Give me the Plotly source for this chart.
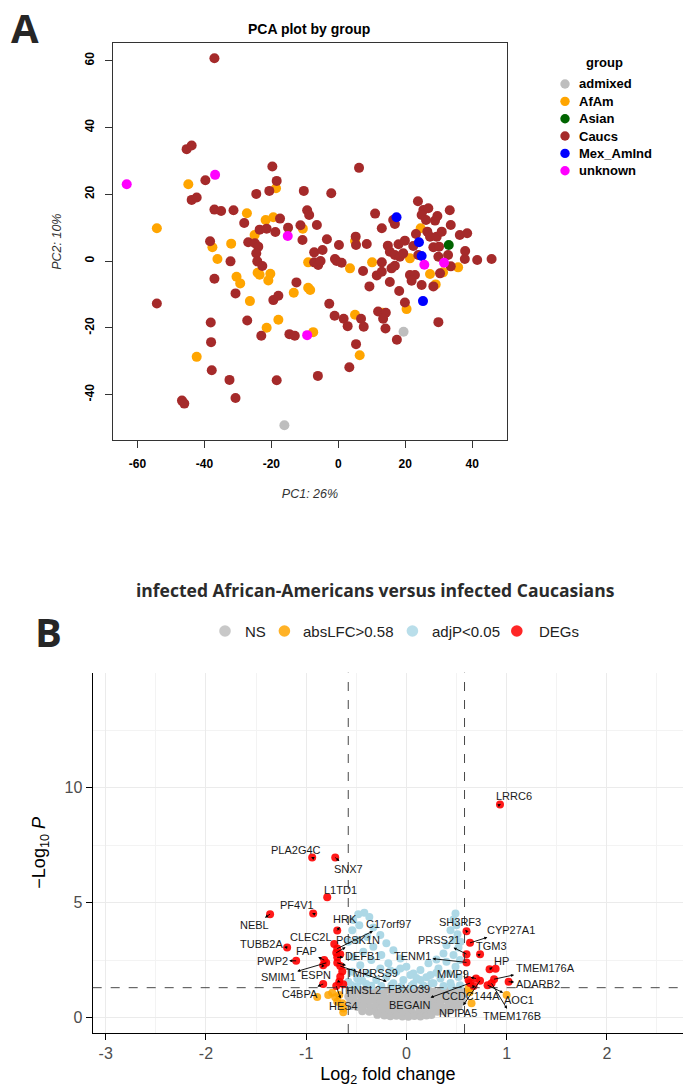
import math
import plotly.graph_objects as go

W, H = 683, 1087

# ---------------- Panel A: PCA scores (PC1, PC2) by group ----------------
admixed_pc1 = [-16.1, 19.5]
admixed_pc2 = [-49.2, -21.2]

afam_pc1 = [-44.8, -54.2, -18.6, -27.3, -21.7, -19.4, -25.0, -10.6, -37.6, -32.0,
            -36.1, -30.4, -29.3, -24.1, -23.5, -20.3, -20.9, -26.4, -13.3, -9.0,
            -8.4, -9.0, -17.9, -21.4, -42.3, -7.5, 5.0, 13.2, 6.4, 20.4,
            3.5, 10.1, 27.4, 29.1, 31.3, 35.8, 5.0, 21.4, 24.6]
afam_pc2 = [23.0, 9.8, 21.8, 14.3, 12.3, 13.1, 7.8, 9.7, 4.1, 5.2,
            0.6, -4.7, -6.7, -3.5, -4.1, -3.8, -5.8, -12.0, -9.5, -8.0,
            -8.7, -0.4, -17.6, -20.0, -28.7, -21.3, -16.1, -15.5, -28.2, -14.4,
            -2.2, -0.4, -3.9, -7.0, -3.4, -1.9, 6.0, 0.8, 9.8]

asian_pc1 = [33.0]
asian_pc2 = [4.8]

caucs_pc1 = [-37.0, -45.3, -43.8, -39.7, -43.8, -42.3, -37.0, -35.0, -31.3, -19.7,
             -18.4, -20.6, -24.5, -10.3, -2.1, -28.1, -17.4, -23.5, -21.4, -18.8,
             -15.0, -11.3, -9.3, -8.7, -6.4, -10.7, -3.4, 0.2, -38.3, -26.9,
             -24.9, -23.9, -24.5, -7.2, -4.7, -32.2, -24.2, -22.7, -37.0, -7.2,
             -6.0, -5.3, -1.0, -0.5, -30.7, -19.4, -17.9, -12.5, -54.2, -38.1,
             -27.2, -38.0, -23.0, -14.6, -13.0, -2.7, -1.1, -37.8, -32.5, -18.4,
             -30.7, -46.7, -46.0, -6.1, 1.6, 2.8, 6.8, 7.6, 11.9, 14.2,
             13.4, 14.1, 17.5, 5.3, 3.3, 29.9, 19.9, 18.2, 15.4, 9.3,
             7.4, 13.0, 11.5, 13.0, 15.9, 16.9, 21.4, 22.9, 21.9, 24.9,
             28.4, 30.4, 33.6, 37.8, 41.5, 45.8, 37.9, 8.5, 14.8, 1.0,
             6.2, 5.2, 5.3, 11.0, 13.0, 16.4, 16.9, 15.4, 18.0, 19.9,
             16.9, 18.4, 19.4, 22.4, 23.9, 23.8, 25.4, 26.9, 24.9, 26.2,
             29.6, 28.9, 33.3, 33.6, 23.2, 26.6, 27.4, 29.4, 30.9, 36.3,
             38.5, 28.4, 30.1, 29.9, 32.8]
caucs_pc2 = [60.7, 33.5, 34.6, 24.2, 18.3, 19.0, 15.4, 15.0, 15.2, 28.3,
             24.0, 21.0, 20.1, 21.0, 20.3, 11.4, 12.7, 9.4, 9.7, 8.7,
             10.0, 10.7, 15.2, 13.8, 10.8, 6.3, 6.5, 4.8, 5.9, 5.6,
             5.3, 4.3, 2.3, 2.6, 3.3, -0.1, -0.1, -1.5, -5.3, -0.4,
             -1.2, 0.0, 0.6, 0.0, -9.7, -11.7, -10.4, -6.4, -12.7, -18.4,
             -17.8, -24.3, -22.4, -21.9, -22.4, -12.8, -16.4, -32.7, -35.6, -35.7,
             -41.0, -41.8, -42.7, -34.4, -17.3, -19.5, -17.3, -19.7, -15.1, -15.5,
             -17.3, -20.2, -23.6, -24.9, -31.8, -18.3, -12.4, -9.0, -6.3, -7.6,
             -3.0, -0.4, -4.3, -3.2, -2.2, -1.4, -4.2, -4.2, -5.9, -7.2,
             -7.6, -3.7, -1.6, 0.6, 0.3, 0.6, 3.0, 5.1, 4.6, -0.5,
             27.9, 7.3, 4.8, 14.2, 9.8, 12.3, 11.1, 2.8, 5.0, 6.1,
             1.8, 1.3, 2.3, 4.5, 1.8, 17.9, 15.3, 15.8, 13.8, 12.3,
             13.5, 12.1, 15.2, 10.8, 8.1, 8.8, 7.3, 7.3, 8.8, 7.8,
             8.3, 4.1, 4.3, 1.3, 1.8]

mex_pc1 = [17.4, 24.1, 24.9, 25.3]
mex_pc2 = [13.1, 5.6, 1.5, -12.0]

unknown_pc1 = [-63.2, -36.8, -15.1, -9.3, 25.7, 31.6]
unknown_pc2 = [23.0, 25.8, 7.5, -22.2, -1.1, -0.5]

group_names = ["admixed", "AfAm", "Asian", "Caucs", "Mex_AmInd", "unknown"]
group_colors = {"admixed": "#BEBEBE", "AfAm": "#FFA500", "Asian": "#006400",
                "Caucs": "#A52A2A", "Mex_AmInd": "#0000FF", "unknown": "#FF00FF"}
group_scores = {"admixed": (admixed_pc1, admixed_pc2), "AfAm": (afam_pc1, afam_pc2),
                "Asian": (asian_pc1, asian_pc2), "Caucs": (caucs_pc1, caucs_pc2),
                "Mex_AmInd": (mex_pc1, mex_pc2), "unknown": (unknown_pc1, unknown_pc2)}
draw_order = ["admixed", "AfAm", "Caucs", "Asian", "Mex_AmInd", "unknown"]

pca_xticks = [-60, -40, -20, 0, 20, 40]
pca_yticks = [-40, -20, 0, 20, 40, 60]

# ---------------- Panel B: volcano plot ----------------
lfc_cutoff = 0.58
p_cutoff = 0.05

# not significant (grey)
ns_lfc = [-0.57, -0.51, -0.46, -0.40, -0.33, -0.28, -0.21, -0.16, -0.09, -0.03,
          0.03, 0.10, 0.15, 0.22, 0.27, 0.34, 0.39, 0.45, 0.51, 0.56,
          -0.58, -0.52, -0.45, -0.39, -0.34, -0.27, -0.22, -0.15, -0.10, -0.04,
          0.02, 0.08, 0.14, 0.21, 0.26, 0.33, 0.38, 0.44, 0.50, 0.55,
          -0.56, -0.50, -0.44, -0.38, -0.31, -0.26, -0.19, -0.14, -0.07, -0.02,
          0.05, 0.10, 0.17, 0.22, 0.29, 0.34, 0.41, 0.46, 0.52, 0.56,
          -0.55, -0.49, -0.43, -0.36, -0.31, -0.24, -0.19, -0.12, -0.07, 0.00,
          0.05, 0.12, 0.17, 0.24, 0.29, 0.36, 0.41, 0.47, 0.52,
          -0.44, -0.37, -0.31, -0.25, -0.18, -0.12, -0.06, 0.01, 0.06, 0.13,
          0.19, 0.25, 0.31, 0.37, 0.43,
          -0.29, -0.22, -0.16, -0.10, -0.04, 0.02, 0.08, 0.14, 0.20, 0.25]
ns_logp = [1.17, 1.12, 1.19, 1.14, 1.18, 1.11, 1.16, 1.20, 1.13, 1.17,
           1.12, 1.18, 1.14, 1.19, 1.12, 1.16, 1.20, 1.13, 1.18, 1.15,
           0.92, 0.95, 0.90, 0.96, 0.91, 0.94, 0.89, 0.95, 0.92, 0.97,
           0.90, 0.94, 0.91, 0.96, 0.93, 0.89, 0.95, 0.92, 0.96, 0.90,
           0.71, 0.67, 0.73, 0.69, 0.72, 0.66, 0.70, 0.74, 0.68, 0.71,
           0.67, 0.73, 0.69, 0.72, 0.66, 0.70, 0.74, 0.68, 0.71, 0.69,
           0.50, 0.46, 0.49, 0.44, 0.48, 0.45, 0.50, 0.46, 0.43, 0.48,
           0.45, 0.49, 0.44, 0.47, 0.50, 0.45, 0.48, 0.44, 0.47,
           0.28, 0.25, 0.27, 0.23, 0.26, 0.22, 0.25, 0.24, 0.21, 0.26,
           0.23, 0.27, 0.25, 0.28, 0.31,
           0.12, 0.09, 0.06, 0.08, 0.05, 0.04, 0.07, 0.05, 0.09, 0.11]

# |log2FC| > 0.58 only (orange)
lfc_only_lfc = [-0.89, -0.78, -0.74, -0.71, -0.67, -0.69, -0.64, -0.63, -0.63,
                0.62, 0.65, 1.00, 0.63]
lfc_only_logp = [0.90, 0.98, 1.08, 0.88, 0.98, 0.69, 0.62, 0.40, 0.23,
                 1.27, 0.62, 0.98, 1.10]

# adjusted p < 0.05 only (light blue)
padj_lfc = [-0.48, -0.42, -0.37, -0.53, -0.47, -0.33, -0.54, -0.26, -0.39, -0.49,
            -0.20, -0.58, -0.33, -0.13, -0.43, -0.25, -0.53, -0.06, -0.35, -0.18,
            -0.46, 0.00, -0.26, -0.10, -0.54, -0.38, 0.07, -0.20, -0.49, -0.03,
            -0.30, 0.14, -0.58, -0.13, -0.40, 0.07, 0.27, -0.25, -0.49,
            0.49, 0.47, 0.50, 0.44, 0.51, 0.47, 0.54, 0.40, 0.52, 0.37,
            0.47, 0.30, 0.535, 0.40, 0.22, 0.49, 0.32, 0.14, 0.42, 0.24,
            0.04, 0.52, 0.34, 0.44, 0.25, 0.535, 0.37, -0.06,
            -0.55, -0.35, -0.15, -0.05, 0.05, 0.17, 0.45, 0.20, -0.44, -0.16,
            0.30, 0.10]
padj_logp = [4.50, 4.56, 4.38, 4.24, 4.02, 3.92, 3.80, 3.59, 3.51, 3.37,
             3.23, 3.30, 3.08, 2.93, 2.86, 2.72, 2.64, 2.57, 2.50, 2.36,
             2.28, 2.21, 2.14, 1.99, 1.99, 1.92, 1.92, 1.77, 1.70, 1.63,
             1.63, 1.63, 1.56, 1.49, 1.46, 1.46, 1.49, 1.37, 1.37,
             4.53, 4.27, 4.02, 3.80, 3.63, 3.37, 3.30, 3.15, 3.05, 2.79,
             2.72, 2.53, 2.50, 2.43, 2.36, 2.21, 2.14, 2.07, 1.92, 1.85,
             1.85, 1.77, 1.70, 1.51, 1.49, 1.41, 1.37, 2.14,
             1.42, 1.38, 1.40, 1.36, 1.38, 1.40, 1.36, 1.75, 1.60, 2.05,
             1.95, 1.72]

# differentially expressed genes (red)
deg_genes = ["LRRC6", "PLA2G4C", "SNX7", "L1TD1", "PF4V1", "NEBL", "HRK", "C17orf97",
             "CLEC2L", "PCSK1N", "TUBB2A", "FAP", "DEFB1", "PWP2", "SMIM1", "ESPN",
             "TMPRSS9", "FBXO39", "THNSL2", "C4BPA", "HES4",
             "SH3RF3", "CYP27A1", "PRSS21", "TGM3", "TENM1", "HP", "TMEM176A",
             "ADARB2", "MMP9", "CCDC144A", "AOC1", "TMEM176B", "NPIPA5", "BEGAIN",
             "", "", "", "", "", ""]
deg_lfc = [0.934, -0.94, -0.71, -0.79, -0.93, -1.36, -0.69, -0.69,
           -0.72, -0.70, -1.19, -0.82, -0.69, -1.10, -0.80, -0.83,
           -0.69, -0.66, -0.67, -0.83, -0.70,
           0.60, 0.635, 0.60, 0.735, 0.60, 0.83, 0.875,
           1.02, 0.695, 0.67, 0.81, 0.85, 0.735, 0.635,
           -0.66, -0.64, -0.66, -0.63, 0.62, 0.89]
deg_logp = [9.27, 6.96, 6.96, 5.23, 4.53, 4.50, 3.79, 3.00,
            3.20, 2.82, 3.05, 2.50, 2.62, 2.47, 2.38, 2.28,
            2.38, 2.24, 1.56, 1.46, 1.37,
            3.76, 3.25, 2.76, 2.76, 2.40, 2.10, 1.67,
            1.56, 1.70, 1.37, 1.41, 1.49, 1.60, 1.50,
            2.75, 2.00, 1.78, 1.45, 1.63, 2.12]

# label placement (pixel offset of each label from its point)
label_offset = {
    "LRRC6": (14, -8), "PLA2G4C": (-16, -8), "SNX7": (13, 11), "L1TD1": (13, -7),
    "PF4V1": (-16, -8), "NEBL": (-16, 11), "HRK": (8, -11), "C17orf97": (51, -25),
    "CLEC2L": (-23, -7), "PCSK1N": (22, -13), "TUBB2A": (-26, -3), "FAP": (-18, -9),
    "DEFB1": (25, -1), "PWP2": (-24, 0), "SMIM1": (-48, 14), "ESPN": (-7, 10),
    "TMPRSS9": (35, 10), "FBXO39": (69, 23), "THNSL2": (21, 8), "C4BPA": (-23, 10),
    "HES4": (7, 20), "SH3RF3": (-7, -9), "CYP27A1": (41, -13), "PRSS21": (-28, -14),
    "TGM3": (11, -8), "TENM1": (-54, -6), "HP": (12, -8), "TMEM176A": (51, -11),
    "ADARB2": (29, 2), "MMP9": (-23, -5), "CCDC144A": (-3, 10), "AOC1": (31, 15),
    "TMEM176B": (20, 33), "NPIPA5": (-22, 32), "BEGAIN": (-60, 22),
}

volcano_categories = ["NS", "absLFC>0.58", "adjP<0.05", "DEGs"]
volcano_colors = {"NS": "#BEBEBE", "absLFC>0.58": "#FFA500",
                  "adjP<0.05": "#ADD8E6", "DEGs": "#FF0000"}
volcano_xticks = [-3, -2, -1, 0, 1, 2]
volcano_yticks = [0, 5, 10]


def px(x):
    return x / W


def py(y):
    return 1 - y / H


def tick_text(vals):
    return [str(v) for v in vals]


fig = go.Figure()

# PCA points
for g in draw_order:
    xs, ys = group_scores[g]
    fig.add_trace(go.Scatter(
        x=xs, y=ys, mode="markers", name=g, xaxis="x", yaxis="y",
        marker=dict(size=10, color=group_colors[g], line=dict(width=0)),
        showlegend=False, hoverinfo="skip"))

# volcano points, grey first then the highlighted categories on top
vol_series = [("NS", ns_lfc, ns_logp, 1.0),
              ("adjP<0.05", padj_lfc, padj_logp, 1.0),
              ("absLFC>0.58", lfc_only_lfc, lfc_only_logp, 0.85),
              ("DEGs", deg_lfc, deg_logp, 0.9)]
for name, xs, ys, op in vol_series:
    fig.add_trace(go.Scatter(
        x=xs, y=ys, mode="markers", name=name, xaxis="x2", yaxis="y2",
        marker=dict(size=8, color=volcano_colors[name], opacity=op, line=dict(width=0)),
        showlegend=False, hoverinfo="skip"))

annotations = []
shapes = []

# ---- Panel A decorations ----
annotations.append(dict(text="<b>A</b>", x=px(25), y=py(27), xref="paper", yref="paper",
                        showarrow=False, xanchor="center", yanchor="middle",
                        font=dict(family="Open Sans", size=40, color="#262626")))
annotations.append(dict(text="<b>PCA plot by group</b>", x=px(309), y=py(29),
                        xref="paper", yref="paper", showarrow=False,
                        xanchor="center", yanchor="middle",
                        font=dict(family="Arial", size=14, color="black")))

# group legend
leg_marker_x, leg_text_x, leg_top, leg_step = 565, 577, 84, 17.35
annotations.append(dict(text="<b>group</b>", x=px(604), y=py(62), xref="paper", yref="paper",
                        showarrow=False, xanchor="center", yanchor="middle",
                        font=dict(family="Arial", size=13, color="black")))
for i, g in enumerate(group_names):
    yc = leg_top + i * leg_step
    shapes.append(dict(type="circle", xref="paper", yref="paper",
                       xsizemode="pixel", ysizemode="pixel",
                       xanchor=px(leg_marker_x), yanchor=py(yc),
                       x0=-4.7, x1=4.7, y0=-4.7, y1=4.7,
                       fillcolor=group_colors[g], line=dict(width=0)))
    annotations.append(dict(text="<b>%s</b>" % g, x=px(leg_text_x), y=py(yc), xref="paper",
                            yref="paper", showarrow=False, xanchor="left", yanchor="middle",
                            font=dict(family="Arial", size=13, color="black")))

# ---- Panel B decorations ----
annotations.append(dict(text="<b>B</b>", x=px(48), y=py(631), xref="paper", yref="paper",
                        showarrow=False, xanchor="center", yanchor="middle",
                        font=dict(family="Open Sans", size=40, color="#262626")))
annotations.append(dict(text="<b>infected African-Americans versus infected Caucasians</b>",
                        x=px(375.5), y=py(590), xref="paper", yref="paper", showarrow=False,
                        xanchor="center", yanchor="middle",
                        font=dict(family="Open Sans", size=17.5, color="#2B2B2B")))

vleg_marker_x = [225, 284.4, 412.4, 516.8]
vleg_text_x = [243.3, 301.4, 430.3, 536.5]
vleg_y = 631
for name, mx, tx in zip(volcano_categories, vleg_marker_x, vleg_text_x):
    shapes.append(dict(type="circle", xref="paper", yref="paper",
                       xsizemode="pixel", ysizemode="pixel",
                       xanchor=px(mx), yanchor=py(vleg_y),
                       x0=-5.8, x1=5.8, y0=-5.8, y1=5.8,
                       fillcolor=volcano_colors[name], opacity=0.85, line=dict(width=0)))
    annotations.append(dict(text=name, x=px(tx), y=py(vleg_y), xref="paper", yref="paper",
                            showarrow=False, xanchor="left", yanchor="middle",
                            font=dict(family="Arial", size=15, color="#222222")))

# cutoff lines
neglog_p_cut = -math.log10(p_cutoff)
for xv in (-lfc_cutoff, lfc_cutoff):
    shapes.append(dict(type="line", xref="x2", yref="y2 domain", x0=xv, x1=xv, y0=0, y1=1,
                       line=dict(color="#333333", width=0.9, dash="dash")))
shapes.append(dict(type="line", xref="x2 domain", yref="y2", x0=0, x1=1,
                   y0=neglog_p_cut, y1=neglog_p_cut,
                   line=dict(color="#333333", width=0.9, dash="dash")))

# gene labels with connectors
for g, xv, yv in zip(deg_genes, deg_lfc, deg_logp):
    if not g:
        continue
    ax, ay = label_offset[g]
    annotations.append(dict(
        x=xv, y=yv, xref="x2", yref="y2", text=g, showarrow=True,
        ax=ax, ay=ay, arrowside="start", startarrowhead=2, startarrowsize=0.7,
        arrowwidth=0.9, arrowcolor="black", standoff=0, startstandoff=0,
        font=dict(family="Arial", size=11, color="#1a1a1a")))

fig.update_layout(
    width=W, height=H, margin=dict(l=0, r=0, t=0, b=0),
    paper_bgcolor="white", plot_bgcolor="white", showlegend=False,
    annotations=annotations, shapes=shapes,
    xaxis=dict(domain=[px(113), px(507)], range=[-67.3, 50.4], anchor="y",
               title=dict(text="<i>PC1: 26%</i>", standoff=18,
                          font=dict(family="Arial", size=12.5, color="#333333")),
               tickmode="array", tickvals=pca_xticks, ticktext=tick_text(pca_xticks),
               ticks="outside", ticklen=7, tickcolor="#333333", tickwidth=1,
               showline=True, mirror=True, linecolor="#333333", linewidth=1,
               showgrid=False, zeroline=False, ticklabelstandoff=6,
               tickfont=dict(family="Arial", size=12, color="black", weight="bold")),
    yaxis=dict(domain=[py(440), py(43.3)], range=[-53.6, 65.2], anchor="x",
               title=dict(text="<i>PC2: 10%</i>", standoff=18,
                          font=dict(family="Arial", size=12.5, color="#333333")),
               tickmode="array", tickvals=pca_yticks, ticktext=tick_text(pca_yticks),
               ticks="outside", ticklen=7, tickcolor="#333333", tickwidth=1,
               showline=True, mirror=True, linecolor="#333333", linewidth=1,
               showgrid=False, zeroline=False, tickangle=-90, ticklabelstandoff=6,
               tickfont=dict(family="Arial", size=12, color="black", weight="bold")),
    xaxis2=dict(domain=[px(92.7), 1.0], range=[-3.13, 2.76], anchor="y2",
                title=dict(text="Log<sub>2</sub> fold change", standoff=8,
                           font=dict(family="Arial", size=18, color="black")),
                tickmode="array", tickvals=volcano_xticks, ticktext=tick_text(volcano_xticks),
                ticks="outside", ticklen=6, tickcolor="black", tickwidth=1.1,
                showline=True, linecolor="black", linewidth=1.2, zeroline=False,
                showgrid=True, gridcolor="#EBEBEB", gridwidth=1.3,
                minor=dict(tickmode="linear", tick0=0, dtick=0.5, showgrid=True,
                           gridcolor="#F3F3F3", gridwidth=0.7, ticks=""),
                tickfont=dict(family="Arial", size=16, color="#4D4D4D")),
    yaxis2=dict(domain=[py(1033), py(672.7)], range=[-0.67, 15.0], anchor="x2",
                title=dict(text="\u2212Log<sub>10</sub> <i>P</i>", standoff=14,
                           font=dict(family="Arial", size=18, color="black")),
                tickmode="array", tickvals=volcano_yticks, ticktext=tick_text(volcano_yticks),
                ticks="outside", ticklen=6, tickcolor="black", tickwidth=1.1,
                showline=True, linecolor="black", linewidth=1.2, zeroline=False,
                showgrid=True, gridcolor="#EBEBEB", gridwidth=1.3,
                minor=dict(tickmode="linear", tick0=0, dtick=2.5, showgrid=True,
                           gridcolor="#F3F3F3", gridwidth=0.7, ticks=""),
                tickfont=dict(family="Arial", size=16, color="#4D4D4D")),
)

fig.write_html("out.html")
